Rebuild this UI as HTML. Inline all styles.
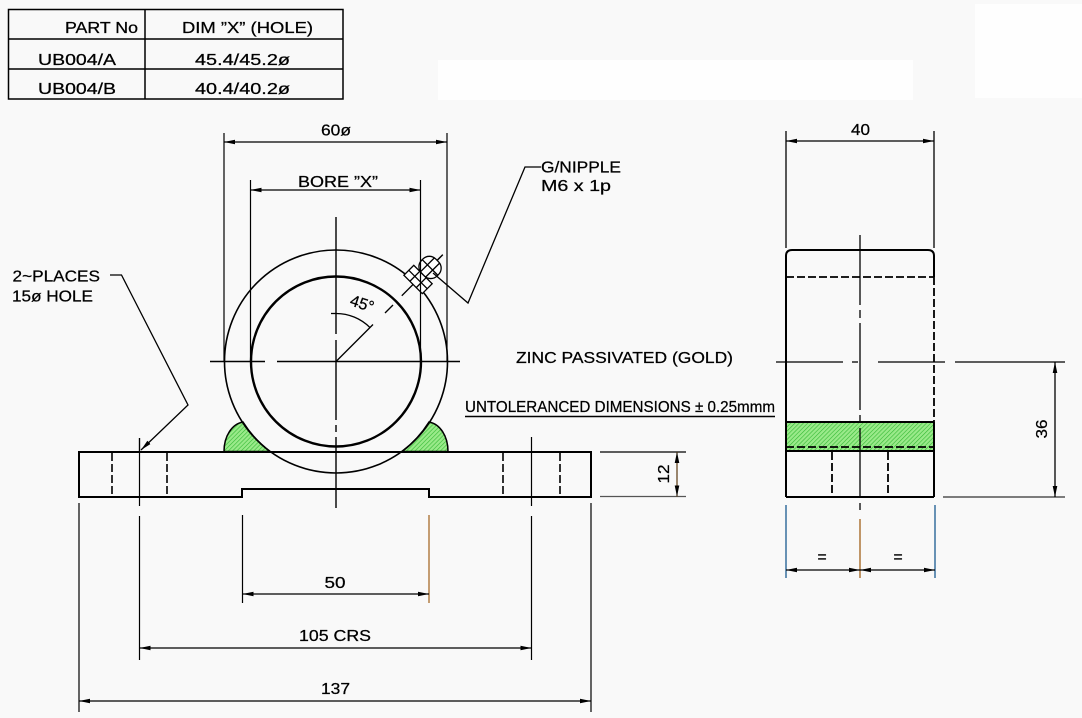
<!DOCTYPE html>
<html><head><meta charset="utf-8"><style>
html,body{margin:0;padding:0;background:#f9f9f9;}
svg{display:block;}
text{font-family:"Liberation Sans",sans-serif;font-size:16px;fill:#000;stroke:#000;stroke-width:0.25;}
</style></head><body>
<svg width="1082" height="718" viewBox="0 0 1082 718" xmlns="http://www.w3.org/2000/svg">
<defs>
<marker id="a" markerUnits="userSpaceOnUse" markerWidth="12" markerHeight="6" refX="11" refY="3" orient="auto-start-reverse"><path d="M0,0.7 L11,3 L0,5.3 z" fill="#000"/></marker>
<pattern id="h" patternUnits="userSpaceOnUse" width="3" height="3" patternTransform="rotate(45)"><rect width="3" height="3" fill="#9aea8a"/><line x1="0" y1="0" x2="0" y2="3" stroke="#33b833" stroke-width="1.2"/></pattern>
</defs>

<!-- white patches -->
<rect x="438" y="60" width="475" height="40" fill="#fefefe"/>
<rect x="975" y="4" width="107" height="94" fill="#fefefe"/>

<!-- TABLE -->
<g fill="none" stroke="#000" stroke-width="1.5">
<rect x="8.5" y="9.5" width="334.5" height="89.5"/>
<line x1="8.5" y1="39" x2="343" y2="39"/>
<line x1="8.5" y1="69" x2="343" y2="69"/>
<line x1="145" y1="9.5" x2="145" y2="99"/>
</g>
<text x="65" y="33" textLength="73" lengthAdjust="spacingAndGlyphs">PART No</text>
<text x="182" y="33" textLength="131" lengthAdjust="spacingAndGlyphs">DIM ”X” (HOLE)</text>
<text x="38" y="65" textLength="78" lengthAdjust="spacingAndGlyphs">UB004/A</text>
<text x="195" y="65" textLength="95" lengthAdjust="spacingAndGlyphs">45.4/45.2ø</text>
<text x="38" y="94" textLength="78" lengthAdjust="spacingAndGlyphs">UB004/B</text>
<text x="195" y="94" textLength="95" lengthAdjust="spacingAndGlyphs">40.4/40.2ø</text>

<!-- FRONT VIEW -->
<path d="M224,451.5 C224,436 232,424 243,422 A111.5,111.5 0 0,0 270,451.5 Z" fill="url(#h)" stroke="#000" stroke-width="1.5"/>
<path d="M448,451.5 C448,436 440,424 429,422 A111.5,111.5 0 0,1 402,451.5 Z" fill="url(#h)" stroke="#000" stroke-width="1.5"/>
<circle cx="336" cy="361.5" r="111.5" fill="none" stroke="#000" stroke-width="1.6"/>
<circle cx="336" cy="361.5" r="85" fill="none" stroke="#000" stroke-width="2.4"/>
<path d="M79,452 H591 V497 H429 V489 H242 V497 H79 Z" fill="none" stroke="#000" stroke-width="2"/>
<g stroke="#000" stroke-width="1.6" stroke-dasharray="8,3">
<line x1="112" y1="453" x2="112" y2="496"/>
<line x1="167" y1="453" x2="167" y2="496"/>
<line x1="503" y1="453" x2="503" y2="496"/>
<line x1="560" y1="453" x2="560" y2="496"/>
</g>
<g stroke="#000" stroke-width="1.2">
<line x1="139.5" y1="438" x2="139.5" y2="506"/>
<line x1="531.5" y1="437" x2="531.5" y2="506"/>
</g>
<g stroke="#000" stroke-width="1.4">
<line x1="210" y1="361.5" x2="265" y2="361.5"/>
<line x1="277" y1="361.5" x2="460" y2="361.5"/>
<line x1="336" y1="217" x2="336" y2="334"/>
<line x1="336" y1="340" x2="336" y2="420"/>
<line x1="336" y1="425" x2="336" y2="432"/>
<line x1="336" y1="437" x2="336" y2="508"/>
</g>
<g stroke="#000" stroke-width="1.3" fill="none">
<path d="M336,313.5 A48,48 0 0,1 370,327.6"/>
<line x1="331" y1="313.5" x2="336" y2="313.5"/>
<line x1="336" y1="361.5" x2="373" y2="324.5"/>
<line x1="385" y1="313" x2="393" y2="305"/>
</g>
<text x="349" y="305" font-size="15" transform="rotate(18 349 305)">45°</text>
<g transform="translate(336,361.5) rotate(-45)" stroke="#000" stroke-width="1.3" fill="none">
<line x1="93" y1="0" x2="151" y2="0"/>
<rect x="109" y="-13" width="14" height="26" fill="#fff"/>
<line x1="116" y1="-13" x2="116" y2="13"/>
<line x1="109" y1="-4.5" x2="123" y2="-4.5"/>
<line x1="109" y1="4.5" x2="123" y2="4.5"/>
<rect x="123" y="-11" width="20" height="22" rx="9" fill="#fff"/>
<line x1="133" y1="-11" x2="133" y2="11"/>
<line x1="123" y1="-3.7" x2="143" y2="-3.7"/>
<line x1="123" y1="3.7" x2="143" y2="3.7"/>
<line x1="143" y1="0" x2="151" y2="0"/>
</g>
<polyline points="433,273 468,303 525,167 541,167" fill="none" stroke="#000" stroke-width="1.3"/>
<text x="541" y="172.7" textLength="80" lengthAdjust="spacingAndGlyphs">G/NIPPLE</text>
<text x="541" y="191" textLength="70" lengthAdjust="spacingAndGlyphs">M6 x 1p</text>

<g stroke="#000" stroke-width="1.2">
<line x1="224" y1="133" x2="224" y2="361"/>
<line x1="447" y1="133" x2="447" y2="361"/>
<line x1="250.5" y1="180" x2="250.5" y2="361"/>
<line x1="420.5" y1="180" x2="420.5" y2="361"/>
<line x1="224" y1="142" x2="447" y2="142" marker-start="url(#a)" marker-end="url(#a)"/>
<line x1="250.5" y1="190" x2="420.5" y2="190" marker-start="url(#a)" marker-end="url(#a)"/>
</g>
<text x="321" y="135.7" textLength="30" lengthAdjust="spacingAndGlyphs">60ø</text>
<text x="298" y="187" textLength="80" lengthAdjust="spacingAndGlyphs">BORE ”X”</text>

<polyline points="110,275 121.5,275 188,405 141,450" fill="none" stroke="#000" stroke-width="1.3" marker-end="url(#a)"/>
<line x1="139.5" y1="438" x2="139.5" y2="452" stroke="#000" stroke-width="1.2"/>
<text x="12.5" y="281.7" textLength="87.5" lengthAdjust="spacingAndGlyphs">2~PLACES</text>
<text x="12" y="301.7" textLength="81" lengthAdjust="spacingAndGlyphs">15ø HOLE</text>

<g stroke="#000" stroke-width="1.2">
<line x1="600" y1="452" x2="686" y2="452"/>
<line x1="600" y1="496.5" x2="686" y2="496.5" stroke="#555"/>
<line x1="677" y1="452" x2="677" y2="496.5" stroke="#5a3a10" marker-start="url(#a)" marker-end="url(#a)"/>
</g>
<text x="664" y="479" text-anchor="middle" transform="rotate(-90 664 474)" textLength="19" lengthAdjust="spacingAndGlyphs">12</text>

<g stroke="#000" stroke-width="1.2">
<line x1="79" y1="503" x2="79" y2="712"/>
<line x1="591" y1="503" x2="591" y2="712"/>
<line x1="139.5" y1="516" x2="139.5" y2="660"/>
<line x1="531.5" y1="516" x2="531.5" y2="660"/>
<line x1="242.5" y1="515" x2="242.5" y2="603"/>
<line x1="429" y1="515" x2="429" y2="603" stroke="#a0601a"/>
<line x1="242.5" y1="594" x2="429" y2="594" marker-start="url(#a)" marker-end="url(#a)"/>
<line x1="139.5" y1="648" x2="531.5" y2="648" marker-start="url(#a)" marker-end="url(#a)"/>
<line x1="79" y1="701" x2="591" y2="701" marker-start="url(#a)" marker-end="url(#a)"/>
</g>
<text x="324.5" y="588" textLength="21" lengthAdjust="spacingAndGlyphs">50</text>
<text x="299" y="641" textLength="72" lengthAdjust="spacingAndGlyphs">105 CRS</text>
<text x="321" y="694" textLength="29" lengthAdjust="spacingAndGlyphs">137</text>

<text x="516" y="363" textLength="217" lengthAdjust="spacingAndGlyphs">ZINC PASSIVATED (GOLD)</text>
<text x="465" y="412" textLength="310" lengthAdjust="spacingAndGlyphs">UNTOLERANCED DIMENSIONS ± 0.25mmm</text>
<line x1="465" y1="416.5" x2="775" y2="416.5" stroke="#000" stroke-width="1.6"/>

<!-- SIDE VIEW -->
<rect x="786" y="422" width="148" height="29" fill="url(#h)"/>
<g fill="none" stroke="#000" stroke-width="2">
<path d="M786,497 V256 Q786,250 792,250 H928 Q934,250 934,256 V277"/>
<line x1="934" y1="422" x2="934" y2="497"/>
<line x1="786" y1="497" x2="934" y2="497"/>
<line x1="786" y1="422" x2="934" y2="422"/>
<line x1="786" y1="451" x2="934" y2="451"/>
</g>
<g stroke="#000" stroke-width="1.8" stroke-dasharray="8,3" fill="none">
<line x1="786" y1="277" x2="934" y2="277"/>
<line x1="934" y1="277" x2="934" y2="422"/>
<line x1="786" y1="447" x2="934" y2="447"/>
<line x1="832" y1="452" x2="832" y2="496"/>
<line x1="888" y1="452" x2="888" y2="496"/>
</g>
<g stroke="#000" stroke-width="1.3">
<line x1="860" y1="235" x2="860" y2="305"/>
<line x1="860" y1="310" x2="860" y2="318"/>
<line x1="860" y1="323" x2="860" y2="410"/>
<line x1="860" y1="415" x2="860" y2="423"/>
<line x1="860" y1="428" x2="860" y2="498"/>
<line x1="860" y1="503" x2="860" y2="510"/>
<line x1="776" y1="362" x2="843" y2="362"/>
<line x1="852" y1="362" x2="858" y2="362"/>
<line x1="878" y1="362" x2="945" y2="362"/>
<line x1="955" y1="362" x2="1065" y2="362"/>
<line x1="943" y1="497" x2="1065" y2="497" stroke="#333"/>
<line x1="1055" y1="362" x2="1055" y2="497" marker-start="url(#a)" marker-end="url(#a)"/>
<line x1="786" y1="131" x2="786" y2="248"/>
<line x1="934" y1="131" x2="934" y2="248"/>
<line x1="786" y1="141" x2="934" y2="141" marker-start="url(#a)" marker-end="url(#a)"/>
<line x1="786" y1="505" x2="786" y2="578" stroke="#1a5a90"/>
<line x1="860" y1="519" x2="860" y2="578" stroke="#a0601a"/>
<line x1="935" y1="505" x2="935" y2="578" stroke="#1a5a90"/>
<line x1="786" y1="570" x2="860" y2="570" marker-start="url(#a)" marker-end="url(#a)"/>
<line x1="860" y1="570" x2="935" y2="570" marker-start="url(#a)" marker-end="url(#a)"/>
</g>
<text x="851" y="135" textLength="19" lengthAdjust="spacingAndGlyphs">40</text>
<text x="1042" y="434" text-anchor="middle" transform="rotate(-90 1042 429)" textLength="19" lengthAdjust="spacingAndGlyphs">36</text>
<text x="822" y="562" text-anchor="middle" fill="#555" stroke="none">=</text>
<text x="898" y="562" text-anchor="middle" fill="#555" stroke="none">=</text>
</svg>
</body></html>
